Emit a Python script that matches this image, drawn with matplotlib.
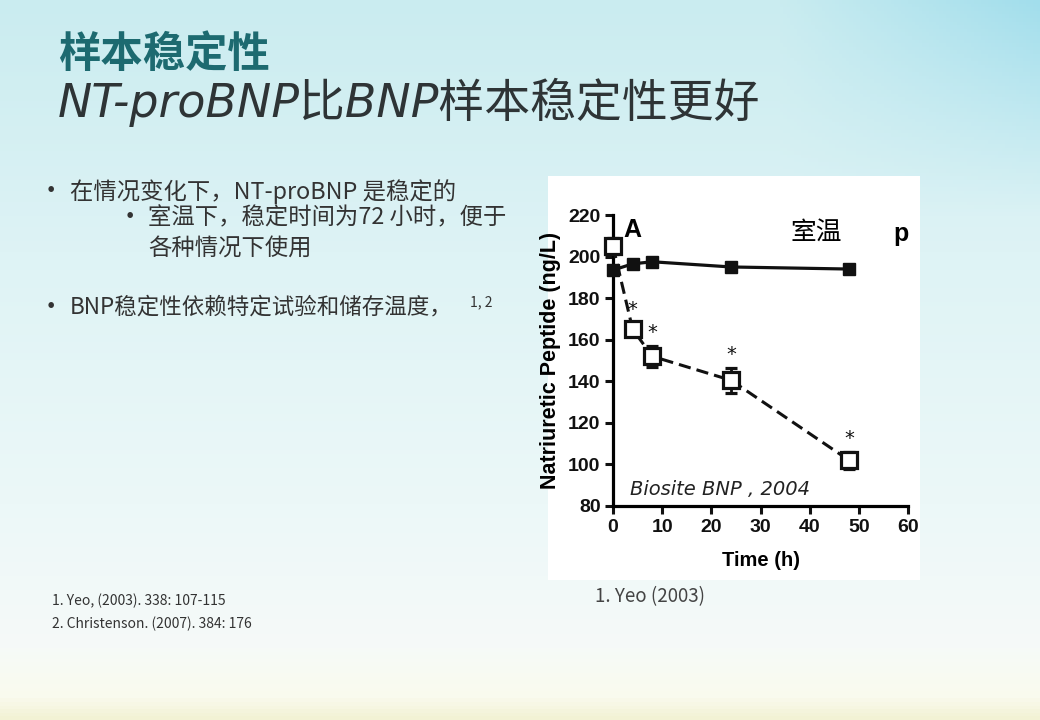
import matplotlib
matplotlib.use('Agg')
from matplotlib import pyplot as plt
import numpy as np

plt.rcParams['font.family'] = ['Noto Sans CJK SC', 'DejaVu Sans']

# data
hours = [0, 4, 8, 24, 48]
ntprobnp = [193.5, 196.5, 197.5, 195, 194]
bnp = [205, 165, 152, 140.5, 102]
bnp_err = [4, 3, 5, 6, 4]
star_at = [4, 8, 24, 48]
xticks = [0, 10, 20, 30, 40, 50, 60]
yticks = [80, 100, 120, 140, 160, 180, 200, 220]

W, H = 1040, 720
fig = plt.figure()
fig.set_size_inches(W / 100, H / 100)

def fx(x):
    return x / W

def fy(y):
    return 1 - y / H

# slide background gradient
bg = fig.add_axes([0, 0, 1, 1])
yy = np.linspace(0, 1, 200)[:, None]
xx = np.linspace(0, 1, 300)[None, :]
stops = [0, 0.35, 0.7, 0.9, 0.97, 1.0]
r = np.interp(yy, stops, [202, 222, 236, 246, 250, 242])
g = np.interp(yy, stops, [236, 243, 248, 250, 250, 242])
b = np.interp(yy, stops, [240, 245, 248, 248, 238, 212])
tint = np.clip((xx - 0.75) / 0.25, 0, 1) * np.clip(1 - yy / 0.3, 0, 1)
r = r - 40 * tint
g = g - 14 * tint
b = b - 4 * tint
img = np.dstack([r * np.ones_like(xx), g * np.ones_like(xx), b * np.ones_like(xx)]) / 255
bg.imshow(np.clip(img, 0, 1), aspect='auto', extent=[0, 1, 0, 1], origin='upper')
bg.axis('off')

# titles
fig.text(fx(58), fy(55), '样本稳定性', fontsize=30.5, fontweight='bold', color='#1d6a70', va='center')
fig.text(fx(58), fy(102), 'NT-proBNP比BNP样本稳定性更好', fontsize=33, style='italic',
         color='#2e3436', va='center', family=['DejaVu Sans', 'Noto Sans CJK SC'])

# bullets
tc = '#333333'
fs = 16.8
fig.text(fx(38), fy(192), '•', fontsize=19, color=tc, va='center')
fig.text(fx(70), fy(192), '在情况变化下，NT-proBNP 是稳定的', fontsize=fs, color=tc, va='center')
fig.text(fx(117), fy(218), '•', fontsize=19, color=tc, va='center')
fig.text(fx(148), fy(218), '室温下，稳定时间为72 小时，便于', fontsize=fs, color=tc, va='center')
fig.text(fx(148), fy(248), '各种情况下使用', fontsize=fs, color=tc, va='center')
fig.text(fx(38), fy(307), '•', fontsize=19, color=tc, va='center')
fig.text(fx(70), fy(307), 'BNP稳定性依赖特定试验和储存温度，', fontsize=16.2, color=tc, va='center')
fig.text(fx(470), fy(302), '1, 2', fontsize=10, color=tc, va='center')

# references
fig.text(fx(52), fy(601), '1. Yeo, (2003). 338: 107-115', fontsize=10, color=tc, va='center')
fig.text(fx(52), fy(624), '2. Christenson. (2007). 384: 176', fontsize=10, color=tc, va='center')
fig.text(fx(595), fy(597), '1. Yeo (2003)', fontsize=13.5, color='#444444', va='center')

# white panel behind the figure
panel = fig.add_axes([fx(548), fy(580), fx(920) - fx(548), fy(176) - fy(580)])
panel.set_facecolor('white')
panel.set_xticks([])
panel.set_yticks([])
for s in panel.spines.values():
    s.set_visible(False)

num_font = ['Liberation Sans', 'DejaVu Sans']
ax = fig.add_axes([fx(613), fy(506), fx(908) - fx(613), fy(215) - fy(506)])
ax.patch.set_alpha(0)
line, = ax.plot(hours, ntprobnp, '-s', color='#111111', lw=2.3, ms=9, mfc='#111111', mec='#111111', zorder=4)
line.set_clip_on(False)
eb = ax.errorbar(hours, bnp, yerr=bnp_err, fmt='s', ls='--', color='#111111', lw=2.2, ms=11,
                 mfc='white', mec='#111111', mew=2.3, capsize=4, capthick=2, elinewidth=2, zorder=3,
                 dashes=(4, 2))
for art in eb.get_children():
    art.set_clip_on(False)
for t in star_at:
    i = hours.index(t)
    ax.annotate('*', (t, bnp[i] + bnp_err[i]), xytext=(0, 3), textcoords='offset points',
                ha='center', va='bottom', fontsize=14, color='#111111', family='DejaVu Sans')
ax.set_xlim(0, 60)
ax.set_ylim(80, 220)
ax.set_xticks(xticks)
ax.set_yticks(yticks)
ax.spines['top'].set_visible(False)
ax.spines['right'].set_visible(False)
ax.spines['left'].set_linewidth(2.3)
ax.spines['bottom'].set_linewidth(2.3)
ax.tick_params(direction='out', length=6, width=2.2, colors='#111111', pad=3)
for lab in ax.get_xticklabels() + ax.get_yticklabels():
    lab.set_family(num_font)
    lab.set_fontweight('bold')
    lab.set_fontsize(14)
ax.set_xlabel('Time (h)', family=num_font, fontweight='bold', fontsize=14.5, labelpad=11)
ax.set_ylabel('Natriuretic Peptide (ng/L)', family=num_font,
              fontweight='bold', fontsize=15.5, labelpad=5)
ax.text(2.2, 213, 'A', family=num_font, fontweight='bold', fontsize=18,
        va='center', ha='left')
ax.text(36, 211.5, '室温', fontsize=18.5, va='center', ha='left')
ax.text(57, 211, 'p', family=num_font, fontweight='bold', fontsize=18,
        va='center', ha='left')
ax.text(3.5, 88, 'Biosite BNP , 2004', style='italic', fontsize=14, va='center', ha='left',
        family='DejaVu Sans', color='#222222')

fig.savefig('out.png', dpi=100)
